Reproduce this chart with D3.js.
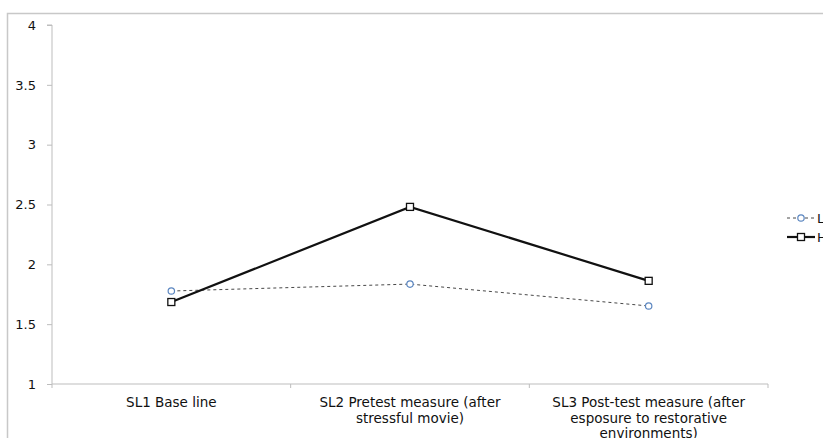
<!DOCTYPE html>
<html>
<head>
<meta charset="utf-8">
<script src="https://cdn.jsdelivr.net/npm/d3@7"></script>
<style>
  body { margin: 0; background: #fff; overflow: hidden; }
  svg { display: block; font-family: "DejaVu Sans", Verdana, sans-serif; }
</style>
</head>
<body>
<svg id="chart" width="823" height="438"></svg>
<script>
const categories = [
  ['SL1 Base line'],
  ['SL2 Pretest measure (after', 'stressful movie)'],
  ['SL3 Post-test measure (after', 'esposure to restorative', 'environments)']
];
const seriesNames = ['L', 'H'];
const lowValues = [1.777, 1.835, 1.652];
const highValues = [1.685, 2.48, 1.862];
const yTicks = [1, 1.5, 2, 2.5, 3, 3.5, 4];

const svg = d3.select('#chart');
const margin = { left: 52, top: 25, right: 768, bottom: 384 };

// outer frame (only left and top edges are visible)
svg.append('path')
  .attr('d', 'M7.5,438 V13.5 H823')
  .attr('fill', 'none')
  .attr('stroke', '#c8c8c8')
  .attr('stroke-width', 1.5);

const x = d3.scaleBand().domain(d3.range(categories.length)).range([margin.left, margin.right]);
const y = d3.scaleLinear().domain([1, 4]).range([margin.bottom, margin.top]);

// y axis
const yAxis = svg.append('g')
  .attr('transform', `translate(${margin.left},0)`)
  .call(d3.axisLeft(y).tickValues(yTicks).tickSize(5).tickPadding(11).tickFormat(d3.format('')));
yAxis.select('.domain').attr('stroke', '#bdbdbd').attr('d', `M-5,${y(4)}H0V${y(1)}`);
yAxis.selectAll('.tick line').attr('stroke', '#bdbdbd');
yAxis.selectAll('.tick text').attr('font-size', 13).attr('fill', '#111').attr('font-family', 'DejaVu Sans');

// x axis
const xg = svg.append('g').attr('transform', `translate(0,${margin.bottom})`);
xg.append('line')
  .attr('x1', margin.left).attr('x2', margin.right)
  .attr('stroke', '#bdbdbd').attr('stroke-width', 1.2);
xg.selectAll('.xtick')
  .data(d3.range(categories.length + 1))
  .enter().append('line')
  .attr('x1', i => margin.left + i * x.bandwidth())
  .attr('x2', i => margin.left + i * x.bandwidth())
  .attr('y1', 0).attr('y2', 4)
  .attr('stroke', '#bdbdbd');

const labels = xg.selectAll('.xlab')
  .data(categories)
  .enter().append('text')
  .attr('text-anchor', 'middle')
  .attr('font-size', 13.5)
  .attr('fill', '#111')
  .attr('transform', (d, i) => `translate(${x(i) + x.bandwidth() / 2},23)`);
labels.selectAll('tspan')
  .data(d => d)
  .enter().append('tspan')
  .attr('x', 0)
  .attr('dy', (d, i) => i === 0 ? 0 : 15.5)
  .text(d => d);

const cx = i => x(i) + x.bandwidth() / 2;
const line = d3.line().x((d, i) => cx(i)).y(d => y(d));

// L series (dashed, circle markers)
svg.append('path')
  .datum(lowValues)
  .attr('d', line)
  .attr('fill', 'none')
  .attr('stroke', '#333')
  .attr('stroke-width', 0.9)
  .attr('stroke-dasharray', '3,3');
svg.selectAll('.lowpt')
  .data(lowValues)
  .enter().append('circle')
  .attr('cx', (d, i) => cx(i))
  .attr('cy', d => y(d))
  .attr('r', 3.2)
  .attr('fill', '#fff')
  .attr('stroke', '#5b86c0')
  .attr('stroke-width', 1.2);

// H series (solid, square markers)
svg.append('path')
  .datum(highValues)
  .attr('d', line)
  .attr('fill', 'none')
  .attr('stroke', '#111')
  .attr('stroke-width', 2.2);
svg.selectAll('.highpt')
  .data(highValues)
  .enter().append('rect')
  .attr('x', (d, i) => cx(i) - 3.5)
  .attr('y', d => y(d) - 3.5)
  .attr('width', 7).attr('height', 7)
  .attr('fill', '#fff')
  .attr('stroke', '#111')
  .attr('stroke-width', 1.3);

// legend
const legend = svg.append('g').attr('transform', 'translate(787,0)');
const legY = [218, 237];
legend.append('line')
  .attr('x1', 0).attr('x2', 28).attr('y1', legY[0]).attr('y2', legY[0])
  .attr('stroke', '#333').attr('stroke-width', 0.9).attr('stroke-dasharray', '3,3');
legend.append('circle')
  .attr('cx', 14).attr('cy', legY[0]).attr('r', 3.2)
  .attr('fill', '#fff').attr('stroke', '#5b86c0').attr('stroke-width', 1.2);
legend.append('line')
  .attr('x1', 0).attr('x2', 28).attr('y1', legY[1]).attr('y2', legY[1])
  .attr('stroke', '#111').attr('stroke-width', 2.2);
legend.append('rect')
  .attr('x', 10.5).attr('y', legY[1] - 3.5).attr('width', 7).attr('height', 7)
  .attr('fill', '#fff').attr('stroke', '#111').attr('stroke-width', 1.3);
legend.selectAll('.legtext')
  .data(seriesNames)
  .enter().append('text')
  .attr('x', 30)
  .attr('y', (d, i) => legY[i] + 4.5)
  .attr('font-size', 13)
  .attr('fill', '#111')
  .text(d => d);
</script>
</body>
</html>
